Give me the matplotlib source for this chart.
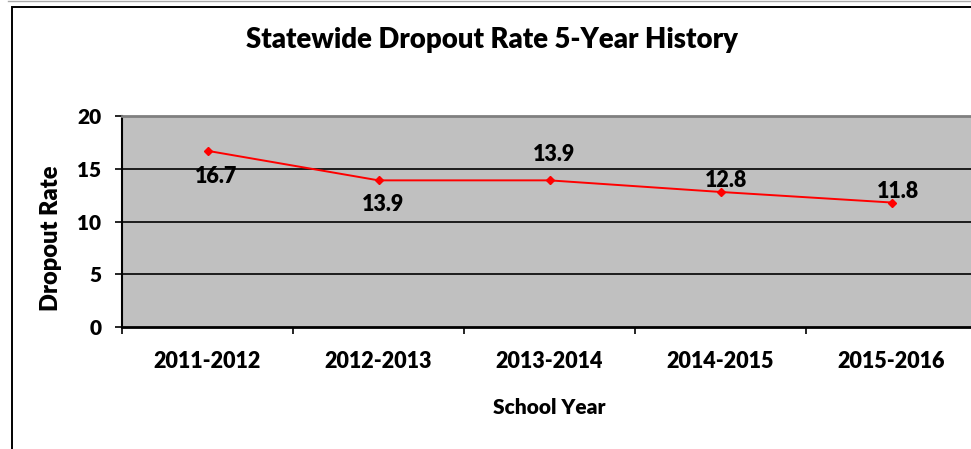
import numpy as np
import matplotlib.pyplot as plt
from matplotlib.lines import Line2D
from matplotlib.patches import Rectangle

plt.rcParams['font.family'] = ['Lato', 'DejaVu Sans']
WEIGHT = 'heavy'

# 数据
years = ['2011-2012', '2012-2013', '2013-2014', '2014-2015', '2015-2016']
rates = [16.7, 13.9, 13.9, 12.8, 11.8]
# 数据标签偏移（points）
label_dx = [6.5, 3.6, 3.6, 4.3, 5.0]
label_dy = [-18.7, -17.3, 18.7, 8.0, 8.0]
y_ticks = [0, 5, 10, 15, 20]

W, H = 971, 449
fig = plt.figure(figsize=(W / 100, H / 100), dpi=100)

# 外框（右侧和底部被裁掉）
fig.add_artist(Line2D([8 / W, 1], [1 - 0.5 / H, 1 - 0.5 / H], color='#AAAAAA', lw=1.0))
fig.add_artist(Rectangle((12 / W, -0.1), 1.2, 1.1 - 7 / H, transform=fig.transFigure,
                         fill=False, edgecolor='black', lw=1.4))

# 绘图区：左 122，右 977（超出画布），上 116，下 327
ax = fig.add_axes([122 / W, (H - 327) / H, 855 / W, 211 / H])
ax.set_facecolor('#C0C0C0')

x = np.arange(len(years))
ax.set_xlim(-0.5, len(years) - 0.5)
ax.set_ylim(0, 20)

for yv in y_ticks[1:-1]:
    ax.axhline(yv, color='black', lw=1.2, zorder=1)

ax.plot(x, rates, color='#FF0000', lw=1.4, marker='D', markersize=4.5,
        markerfacecolor='#FF0000', markeredgecolor='#FF0000', zorder=3)

for xi, v, dx, dy in zip(x, rates, label_dx, label_dy):
    ax.annotate(f'{v}', (xi, v), xytext=(dx, dy), textcoords='offset points',
                ha='center', va='center', fontsize=15.5, fontweight=WEIGHT)

ax.set_yticks(y_ticks)
ax.set_yticklabels([str(t) for t in y_ticks], fontsize=15, fontweight=WEIGHT)
ax.set_xticks(x)
ax.set_xticklabels(years, fontsize=15.5, fontweight=WEIGHT)
ax.set_xticks(np.arange(len(years) + 1) - 0.5, minor=True)
ax.tick_params(axis='x', which='major', length=0, pad=17)
ax.tick_params(axis='x', which='minor', length=5, width=1.2, direction='out', color='black')
ax.tick_params(axis='y', length=5, width=1.2, direction='out', pad=10)

ax.spines['top'].set_color('#808080')
ax.spines['top'].set_linewidth(2)
ax.spines['right'].set_visible(False)
ax.spines['left'].set_linewidth(1.5)
ax.spines['bottom'].set_linewidth(2)

# 坐标轴标题
fig.text(51 / W, 1 - 238 / H, 'Dropout Rate', rotation=90, ha='center', va='center',
         fontsize=17, fontweight=WEIGHT)
fig.text(549 / W, 1 - 408 / H, 'School Year', ha='center', va='center',
         fontsize=15, fontweight=WEIGHT)

fig.text(492 / W, 1 - 40 / H, 'Statewide Dropout Rate 5-Year History',
         ha='center', va='center', fontsize=19.8, fontweight=WEIGHT)

fig.savefig('out.png', dpi=100)
